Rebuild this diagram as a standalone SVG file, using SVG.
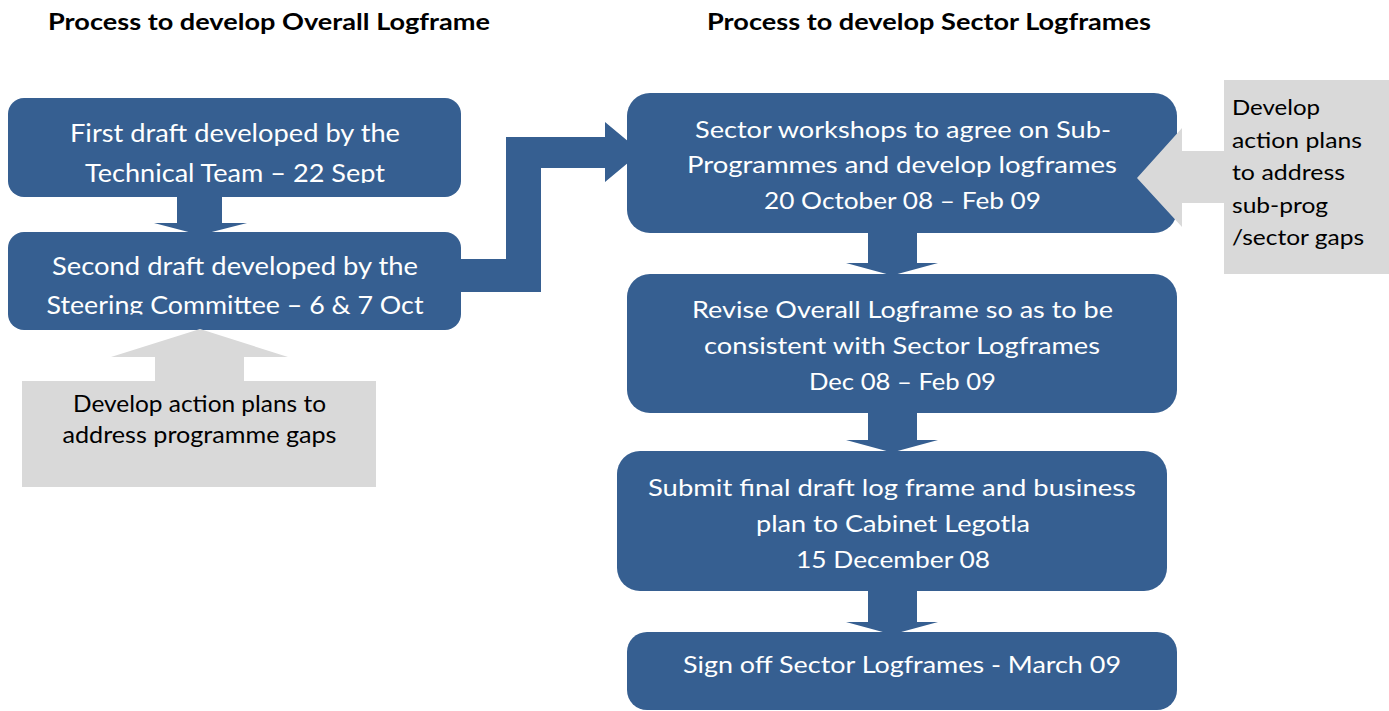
<svg xmlns="http://www.w3.org/2000/svg" width="1389" height="711" viewBox="0 0 1389 711">
  <style>
    .box { fill: #365F91; }
    .flow { fill: #365F91; }
    .note { fill: #D9D9D9; }
    .title { font-family: Lato, "Liberation Sans", sans-serif; font-weight: bold; font-size: 23px; fill: #000; text-anchor: middle; }
    .lbl { font-family: Lato, "Liberation Sans", sans-serif; font-size: 24px; fill: #fff; text-anchor: middle; }
    .lblL { font-family: Lato, "Liberation Sans", sans-serif; font-size: 25px; fill: #fff; text-anchor: middle; }
    .dark { font-family: Lato, "Liberation Sans", sans-serif; font-size: 23px; fill: #000; text-anchor: middle; }
    .side { font-family: Lato, "Liberation Sans", sans-serif; font-size: 22px; fill: #000; }
  </style>
  <defs>
    <clipPath id="clip-first" clipPathUnits="userSpaceOnUse"><rect x="8" y="98" width="453" height="85"/></clipPath>
    <clipPath id="clip-second" clipPathUnits="userSpaceOnUse"><rect x="8" y="232" width="453" height="82.5"/></clipPath>
  </defs>

  <rect width="1389" height="711" fill="#fff"/>

  <!-- column headings -->
  <text class="title" x="269" y="30" textLength="442" lengthAdjust="spacingAndGlyphs">Process to develop Overall Logframe</text>
  <text class="title" x="929" y="30" textLength="444" lengthAdjust="spacingAndGlyphs">Process to develop Sector Logframes</text>

  <!-- block arrows between steps (drawn under the boxes) -->
  <g id="connectors">
    <polygon class="flow" points="177,190 222,190 222,223 247,223 200,235 154,223 177,223"/>
    <polygon class="flow" points="450,259 506,259 506,137 605,137 605,122 641,152 605,182 605,168 541,168 541,292 450,292"/>
    <polygon class="flow" points="868,225 917,225 917,263 938,263 892,275.5 846,263 868,263"/>
    <polygon class="flow" points="868,405 917,405 917,440 938,440 892,452.5 846,440 868,440"/>
    <polygon class="flow" points="868,585 917,585 917,622 938,622 892,634.5 846,622 868,622"/>
  </g>

  <g id="first-draft">
    <rect class="box" x="8" y="98" width="453" height="99" rx="16"/>
    <text class="lblL" x="235" y="142" textLength="330" lengthAdjust="spacingAndGlyphs">First draft developed by the</text>
    <text class="lblL" x="235" y="182" textLength="300" lengthAdjust="spacingAndGlyphs" clip-path="url(#clip-first)">Technical Team – 22 Sept</text>
  </g>

  <g id="second-draft">
    <rect class="box" x="8" y="232" width="453" height="98" rx="16"/>
    <text class="lblL" x="235" y="275" textLength="366" lengthAdjust="spacingAndGlyphs">Second draft developed by the</text>
    <text class="lblL" x="235" y="314" textLength="377" lengthAdjust="spacingAndGlyphs" clip-path="url(#clip-second)">Steering Committee – 6 &amp; 7 Oct</text>
  </g>

  <g id="programme-gaps">
    <polygon class="note" points="22,381 155,381 155,357 111,357 200,329 288,357 244,357 244,381 376,381 376,487 22,487"/>
    <text class="dark" x="199.5" y="412" textLength="253" lengthAdjust="spacingAndGlyphs">Develop action plans to</text>
    <text class="dark" x="199.5" y="443" textLength="274" lengthAdjust="spacingAndGlyphs">address programme gaps</text>
  </g>

  <g id="sector-workshops">
    <rect class="box" x="627" y="93" width="550" height="140" rx="23"/>
    <text class="lbl" x="903" y="138" textLength="416" lengthAdjust="spacingAndGlyphs">Sector workshops to agree on Sub-</text>
    <text class="lbl" x="902" y="173" textLength="430" lengthAdjust="spacingAndGlyphs">Programmes and develop logframes</text>
    <text class="lbl" x="902.5" y="209" textLength="277" lengthAdjust="spacingAndGlyphs">20 October 08 – Feb 09</text>
  </g>

  <g id="sector-gaps">
    <polygon class="note" points="1224,80 1389,80 1389,274 1224,274 1224,203 1182,203 1182,227 1137,178 1182,128 1182,151 1224,151"/>
    <text class="side" x="1232" y="115" textLength="88" lengthAdjust="spacingAndGlyphs">Develop</text>
    <text class="side" x="1232" y="148" textLength="130" lengthAdjust="spacingAndGlyphs">action plans</text>
    <text class="side" x="1232" y="180" textLength="113" lengthAdjust="spacingAndGlyphs">to address</text>
    <text class="side" x="1232" y="213" textLength="96" lengthAdjust="spacingAndGlyphs">sub-prog</text>
    <text class="side" x="1232" y="245" textLength="132" lengthAdjust="spacingAndGlyphs">/sector gaps</text>
  </g>

  <g id="revise-overall">
    <rect class="box" x="627" y="274" width="550" height="139" rx="23"/>
    <text class="lbl" x="902.5" y="318" textLength="421" lengthAdjust="spacingAndGlyphs">Revise Overall Logframe so as to be</text>
    <text class="lbl" x="902" y="354" textLength="396" lengthAdjust="spacingAndGlyphs">consistent with Sector Logframes</text>
    <text class="lbl" x="902.5" y="390" textLength="187" lengthAdjust="spacingAndGlyphs">Dec 08 – Feb 09</text>
  </g>

  <g id="submit-final">
    <rect class="box" x="617" y="451" width="550" height="140" rx="23"/>
    <text class="lbl" x="892" y="496" textLength="488" lengthAdjust="spacingAndGlyphs">Submit final draft log frame and business</text>
    <text class="lbl" x="893" y="532" textLength="274" lengthAdjust="spacingAndGlyphs">plan to Cabinet Legotla</text>
    <text class="lbl" x="893" y="568" textLength="194" lengthAdjust="spacingAndGlyphs">15 December 08</text>
  </g>

  <g id="sign-off">
    <rect class="box" x="627" y="632" width="550" height="78" rx="20"/>
    <text class="lbl" x="902" y="673" textLength="438" lengthAdjust="spacingAndGlyphs">Sign off Sector Logframes - March 09</text>
  </g>
</svg>
